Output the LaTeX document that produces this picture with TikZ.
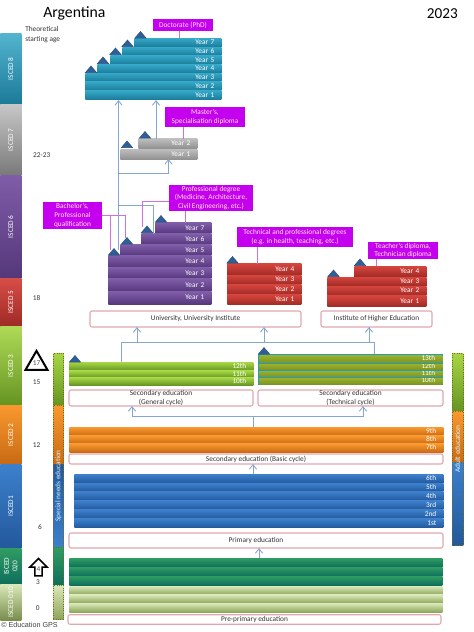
\documentclass[tikz,border=0pt]{standalone}
\usepackage{fontspec}
\setmainfont{Carlito}
\newfontfamily\gpsfont{Liberation Sans}
\usepackage{xcolor}
\usetikzlibrary{arrows.meta,calc,shapes.geometric,shapes.arrows}

\definecolor{tieline}{HTML}{CF6FE0}
\definecolor{flowline}{HTML}{86A6D2}
\definecolor{awardfill}{HTML}{C400EE}
\definecolor{boxline}{HTML}{E0A8AE}
\definecolor{tricol}{HTML}{2F5F96}
\definecolor{docT}{HTML}{35A7C7}\definecolor{docB}{HTML}{1A7A98}
\definecolor{masT}{HTML}{BDBDBD}\definecolor{masB}{HTML}{8F8F8F}
\definecolor{purT}{HTML}{7F5DA8}\definecolor{purB}{HTML}{55377B}
\definecolor{redT}{HTML}{D5443C}\definecolor{redB}{HTML}{9E2A26}
\definecolor{grnT}{HTML}{A6D644}\definecolor{grnB}{HTML}{659422}
\definecolor{tecT}{HTML}{9DB12E}\definecolor{tecB}{HTML}{7A9522}
\definecolor{tecline}{HTML}{1F9DBF}
\definecolor{orgT}{HTML}{F9982E}\definecolor{orgB}{HTML}{C86A14}
\definecolor{bluT}{HTML}{3C80CC}\definecolor{bluB}{HTML}{23589C}
\definecolor{dkgT}{HTML}{2F9C62}\definecolor{dkgB}{HTML}{0E6E5C}
\definecolor{ltgT}{HTML}{DAE8B8}\definecolor{ltgB}{HTML}{8DA55A}

\begin{document}
\begin{tikzpicture}[
    x=0.75pt, y=-0.75pt,
    >={Straight Barb[length=3.4pt,width=5.4pt]},
    font=\fontsize{5.5}{6.4}\selectfont,
    sz/.style 2 args={inner sep=0pt, minimum width=#1*0.75pt, minimum height=#2*0.75pt},
    bar/.style 2 args={sz={#1}{#2}, anchor=north west, align=right,
                 text=white, text width=#1*0.75pt-10.5pt, text height=3.2pt, text depth=0.4pt},
    strip/.style 2 args={sz={#1}{#2}, anchor=north west},
    docbar/.style={top color=docT, bottom color=docB},
    masbar/.style={top color=masT, bottom color=masB, text=black!12},
    purbar/.style={top color=purT, bottom color=purB},
    redbar/.style={top color=redT, bottom color=redB},
    grnbar/.style={top color=grnT, bottom color=grnB},
    tecbar/.style={top color=tecT, bottom color=tecB},
    orgbar/.style={top color=orgT, bottom color=orgB},
    blubar/.style={top color=bluT, bottom color=bluB},
    dkgbar/.style={top color=dkgT, bottom color=dkgB},
    ltgbar/.style={top color=ltgT, bottom color=ltgB},
    dotted strip/.style={draw=olive!75!black, densely dotted, line width=0.7pt},
    iscedtxt/.style={rotate=90, text=white, align=center, inner sep=0pt},
    tri/.style={isosceles triangle, isosceles triangle stretches, shape border rotate=90,
                fill=tricol, draw=tricol!80!black, line width=0.3pt, inner sep=0pt,
                minimum width=8.6pt, minimum height=5pt},
    award/.style={fill=awardfill, text=white!90!magenta, align=center},
    placebox/.style={draw=boxline, line width=0.8pt, fill=white, rounded corners=1.5pt,
                 align=center, text=black!80},
    age/.style={text=black!80, inner sep=0pt},
    tie/.style={tieline, line width=0.65pt},
    flow/.style={flowline, line width=0.65pt},
    tecsep/.style={tecline, line width=0.9pt},
]
\useasboundingbox (0,0) rectangle (474,632);

% --- title and year ---
\node[font=\fontsize{11.8}{14}\selectfont, anchor=west, inner sep=0pt] (country) at (43,13.5) {Argentina};
\node[font=\fontsize{11.4}{14}\selectfont, anchor=east, inner sep=0pt] (year) at (458,13.5) {2023};
\node[anchor=north west, align=left, inner sep=0pt, text=black!80] (agehead) at (25,26) {Theoretical\\[1pt]starting age};
\node[font=\gpsfont\fontsize{5.4}{6}\selectfont, anchor=west, inner sep=0pt, text=black!75] (gps) at (1,625) {\textcopyright\ Education GPS};

% --- ISCED strip on the left ---
\node[strip={21}{71}, top color=docT!85!white, bottom color=docB] (s8) at (0,33) {};
\node[strip={21}{71}, top color=masT!85!white, bottom color=masB!85!black] (s7) at (0,104) {};
\node[strip={21}{103}, top color=purT, bottom color=purB] (s6) at (0,175) {};
\node[strip={21}{48}, top color=redT!95!white, bottom color=redB] (s5) at (0,278) {};
\node[strip={21}{79}, top color=grnT!90!white, bottom color=grnB] (s3) at (0,326) {};
\node[strip={21}{59}, top color=orgT, bottom color=orgB] (s2) at (0,405) {};
\node[strip={21}{84}, top color=bluT, bottom color=bluB] (s1) at (0,464) {};
\node[strip={21}{36}, top color=dkgT, bottom color=dkgB] (s02) at (0,548) {};
\node[strip={21}{36}, top color=ltgT, bottom color=ltgB!85!black] (s01) at (0,584) {};
\node[iscedtxt] (l8) at (s8) {ISCED 8};
\node[iscedtxt] (l7) at (s7) {ISCED 7};
\node[iscedtxt] (l6) at (s6) {ISCED 6};
\node[iscedtxt] (l5) at (s5) {ISCED 5};
\node[iscedtxt] (l3) at (s3) {ISCED 3};
\node[iscedtxt] (l2) at (s2) {ISCED 2};
\node[iscedtxt] (l1) at (s1) {ISCED1};
\node[iscedtxt] (l02) at (s02) {ISCED\\020};
\node[iscedtxt] (l01) at (s01) {ISCED 010};

% --- ages ---
\node[age] (a2223) at (41.7,155) {22-23};
\node[age] (a18) at (36.7,297.7) {18};
\node[age] (a15) at (36.7,381.7) {15};
\node[age] (a12) at (36.7,445) {12};
\node[age] (a6) at (40,527) {6};
\node[age] (a3) at (38,581.7) {3};
\node[age] (a0) at (37.7,607.7) {0};
\node[regular polygon, regular polygon sides=3, draw=black, line width=1.5pt, inner sep=0pt,
      minimum size=19pt, text=black!70] (compend) at (36.5,363.5) {17};
\node[single arrow, shape border rotate=90, draw=black, line width=1.1pt, inner sep=0pt,
      minimum width=13pt, single arrow head extend=2.6pt, single arrow head indent=0pt,
      minimum height=13pt, text=black!70] (compbeg) at (38.5,569) {4};

% --- special needs strip ---
\node[strip={10}{52}, dotted strip, top color=grnT, bottom color=grnB] (n3) at (53,353) {};
\node[strip={10}{59}, dotted strip, top color=orgT, bottom color=orgB] (n2) at (53,405) {};
\node[strip={10}{83}, dotted strip, top color=bluB, bottom color=bluT] (n1) at (53,464) {};
\node[strip={10}{38}, dotted strip, top color=dkgT, bottom color=dkgB] (n02) at (53,547) {};
\node[strip={10}{34}, dotted strip, top color=ltgT, bottom color=ltgB] (n01) at (53,585) {};
\node[iscedtxt, text=white!85!cyan] (needs) at (58.5,486) {Special needs education};

% --- adult strip ---
\node[strip={11}{58}, dotted strip, top color=grnT, bottom color=grnB] (ad3) at (452,353) {};
\node[strip={11}{52}, dotted strip, top color=orgT, bottom color=orgB] (ad2) at (452,411) {};
\node[strip={11}{83}, dotted strip, top color=bluT, bottom color=bluB] (ad1) at (452,462) {};
\node[iscedtxt, text=white!85!cyan] (adult) at (457.5,449) {Adult education};

% --- doctorate ---
\node[docbar,bar={87}{9}] (d7) at (134,38) {Year 7};
\node[docbar,bar={99}{8.5}] (d6) at (122,47) {Year 6};
\node[docbar,bar={111}{9}] (d5) at (110,55.5) {Year 5};
\node[docbar,bar={124}{8.5}] (d4) at (97,64.5) {Year 4};
\node[docbar,bar={136}{8.5}] (d3) at (85,73) {Year 3};
\node[docbar,bar={136}{9}] (d2) at (85,81.5) {Year 2};
\node[docbar,bar={136}{9}] (d1) at (85,90.5) {Year 1};
\node[award, sz={60}{12}] (phd) at (183,25) {Doctorate (PhD)};

% --- master ---
\node[masbar,bar={59}{10}] (m2) at (138,138.5) {Year 2};
\node[masbar,bar={77}{10.5}] (m1) at (120,149) {Year 1};
\node[award, sz={80}{19.5}] (msc) at (205,117) {Master's,\\Specialisation diploma};

% --- bachelor and professional degree ---
\node[purbar,bar={56}{11}] (p7) at (155,222.5) {Year 7};
\node[purbar,bar={70}{11}] (p6) at (141,233.5) {Year 6};
\node[purbar,bar={91}{11}] (p5) at (120,244.5) {Year 5};
\node[purbar,bar={103}{12}] (p4) at (108,255.5) {Year 4};
\node[purbar,bar={103}{11}] (p3) at (108,267.5) {Year 3};
\node[purbar,bar={103}{13}] (p2) at (108,278.5) {Year 2};
\node[purbar,bar={103}{12.5}] (p1) at (108,291.5) {Year 1};
\node[award, sz={59}{27}] (bach) at (72.5,215.5) {Bachelor's,\\Professional\\qualification};
\node[award, sz={84}{26}] (prof) at (211,198) {Professional degree\\(Medicine, Architecture,\\Civil Engineering, etc.)};

% --- short tertiary, university side ---
\node[redbar,bar={74}{12}] (t4) at (227,263.5) {Year 4};
\node[redbar,bar={74}{9.5}] (t3) at (227,275) {Year 3};
\node[redbar,bar={74}{10}] (t2) at (227,284.5) {Year 2};
\node[redbar,bar={74}{10}] (t1) at (227,294.5) {Year 1};
\node[award, sz={116}{20}] (techdeg) at (295,237) {Technical and professional degrees\\(e.g. in health, teaching, etc.)};

% --- short tertiary, institute side ---
\node[redbar,bar={72}{11}] (h4) at (354,266) {Year 4};
\node[redbar,bar={99}{9}] (h3) at (327,277) {Year 3};
\node[redbar,bar={99}{9.5}] (h2) at (327,286) {Year 2};
\node[redbar,bar={99}{11}] (h1) at (327,295.5) {Year 1};
\node[award, sz={70}{17}] (teach) at (403,250.5) {Teacher's diploma,\\Technician diploma};

% --- institutions ---
\node[placebox, sz={211}{16}] (uni) at (195.5,319) {University, University Institute};
\node[placebox, sz={111}{16}] (inst) at (376.5,319) {Institute of Higher Education};

% --- upper secondary ---
\node[grnbar,bar={184}{8.5}] (g12) at (69,362) {12th};
\node[grnbar,bar={184}{7}] (g11) at (69,370.5) {11th};
\node[grnbar,bar={184}{7.5}] (g10) at (69,377.5) {10th};
\node[strip={185}{31}, fill=tecline] (cback) at (258,354) {};
\node[tecbar,bar={183}{7.5}] (c13) at (259,355) {13th};
\node[tecbar,bar={183}{6}] (c12) at (259,363.5) {12th};
\node[tecbar,bar={183}{6}] (c11) at (259,370.5) {11th};
\node[tecbar,bar={183}{6.5}] (c10) at (259,377.5) {10th};
\draw[tecsep] (c12.north west) -- (c12.north east);
\draw[tecsep] (c11.north west) -- (c11.north east);
\draw[tecsep] (c10.north west) -- (c10.north east);
\node[placebox, sz={184}{16}] (gen) at (161,398) {Secondary education\\(General cycle)};
\node[placebox, sz={185}{16}] (tec) at (350.5,398) {Secondary education\\(Technical cycle)};

% --- lower secondary ---
\node[orgbar,bar={374}{8.5}] (o9) at (69,427) {9th};
\node[orgbar,bar={374}{8}] (o8) at (69,435.5) {8th};
\node[orgbar,bar={374}{8.5}] (o7) at (69,443.5) {7th};
\node[placebox, sz={374}{10}] (low) at (256,459) {Secondary education (Basic cycle)};

% --- primary ---
\node[blubar,bar={369}{9}] (b6) at (74,474) {6th};
\node[blubar,bar={369}{8.5}] (b5) at (74,483) {5th};
\node[blubar,bar={369}{9}] (b4) at (74,491.5) {4th};
\node[blubar,bar={369}{9}] (b3) at (74,500.5) {3rd};
\node[blubar,bar={369}{9}] (b2) at (74,509.5) {2nd};
\node[blubar,bar={369}{9}] (b1) at (74,518.5) {1st};
\node[placebox, sz={374}{15}] (pri) at (256,540.5) {Primary education};

% --- pre-primary ---
\node[dkgbar,bar={373}{9}] (k3) at (69,558) {};
\node[dkgbar,bar={373}{9}] (k2) at (69,567) {};
\node[dkgbar,bar={373}{9}] (k1) at (69,576) {};
\node[ltgbar,bar={373}{8.5}] (y3) at (69,586) {};
\node[ltgbar,bar={373}{8.5}] (y2) at (69,594.5) {};
\node[ltgbar,bar={373}{9}] (y1) at (69,603) {};
\node[placebox, sz={373}{9.5}] (pre) at (254.5,619.5) {Pre-primary education};

% --- free ends ---
\coordinate (trunk) at (118.5,250);
\coordinate (forkm) at (118.5,173.5);
\coordinate (inm) at (168.5,159);
\coordinate (outm) at (156,138.5);
\coordinate (forkp) at (118.5,205);
\coordinate (outp) at (153,233.5);
\coordinate (forksec) at (121,362);
\coordinate (busup) at (121,342);
\coordinate (busend) at (374,354);
\coordinate (inu) at (137,327);
\coordinate (intec) at (264,327);
\coordinate (ini) at (369,327);
\coordinate (outb) at (253,427);
\coordinate (busl) at (253,416);
\coordinate (ingen) at (132,406);
\coordinate (inadv) at (363,406);
\coordinate (inlow) at (253,464);
\coordinate (outb1) at (253,474);
\coordinate (inpri) at (259,548);
\coordinate (outk) at (259,558);

% --- progression arrows ---
\draw[flow,->] (trunk) -- (trunk |- d1.south);
\draw[flow] (outp) -- (outp |- forkp) -- (forkp);
\draw[flow,->] (forkm) -| (inm);
\draw[flow,->] (outm) -- (outm |- d1.south);
\draw[flow] (forksec) -- (busup) -| (busend);
\draw[flow,->] (busup -| inu) -- (inu);
\draw[flow,->] (busup -| intec) -- (intec);
\draw[flow,->] (busup -| ini) -- (ini);
\draw[flow] (outb) -- (busl);
\draw[flow,->] (busl) -| (ingen);
\draw[flow,->] (busl) -| (inadv);
\draw[flow,->] (outb1) -- (inlow);
\draw[flow,->] (outk) -- (inpri);

% --- qualification ties ---
\coordinate (ba) at (110.7,250);
\coordinate (bb) at (125,238);
\coordinate (pa) at (142,227);
\coordinate (pb) at (185,222.5);
\draw[tie] (bach.east) -| (ba);
\draw[tie] (bach.east) -| (bb);
\draw[tie] ($(prof.west)+(0,3)$) -| (pa);
\draw[tie] (prof.south -| pb) -- (pb);
\draw[tie] (phd.south -| 179,0) -- (179,38);
\draw[tie] (msc.south -| 183,0) -- (183,138.5);
\draw[tie] (techdeg.south -| 257,0) -- (257,263.5);
\draw[tie] (teach.south -| 376,0) -- (376,266);

% --- entry triangles ---
\node[tri] (td1) at (91,70) {};
\node[tri] (td2) at (103,61) {};
\node[tri] (td3) at (115.5,52) {};
\node[tri] (td4) at (127.5,44) {};
\node[tri] (td5) at (140.5,35.5) {};
\node[tri] (tm1) at (127,145) {};
\node[tri] (tm2) at (145,135.5) {};
\node[tri] (tp1) at (114,252.5) {};
\node[tri] (tp2) at (127,241.5) {};
\node[tri] (tp3) at (147,230) {};
\node[tri] (tp4) at (161,219.5) {};
\node[tri] (tt1) at (232.5,260.5) {};
\node[tri] (th1) at (333.5,274) {};
\node[tri] (th2) at (360,263) {};
\node[tri] (tg) at (75,359.5) {};
\node[tri] (tc) at (264,351.5) {};
\end{tikzpicture}
\end{document}
